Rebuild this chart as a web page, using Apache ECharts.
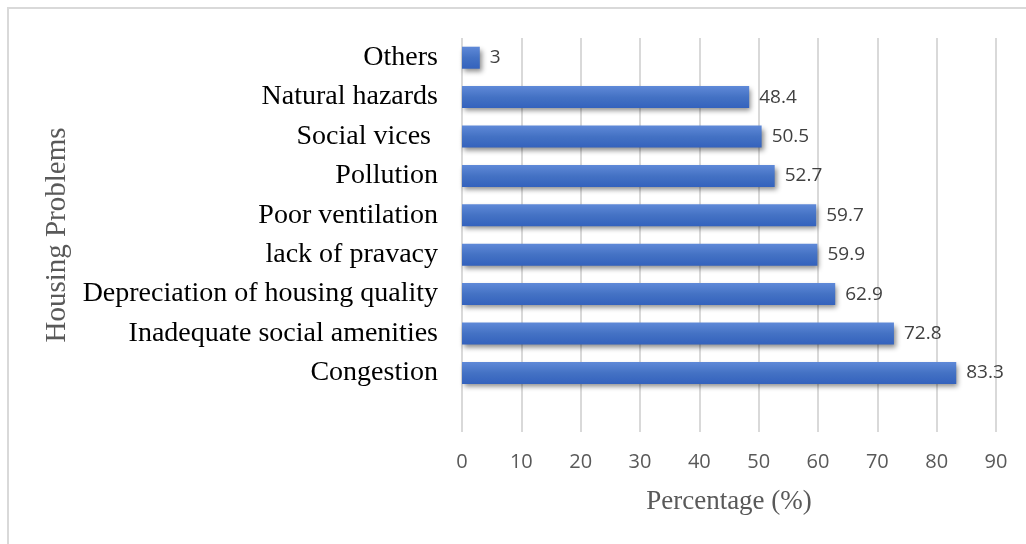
<!DOCTYPE html>
<html><head><meta charset="utf-8">
<script src="https://cdn.jsdelivr.net/npm/echarts@6/dist/echarts.min.js"></script>
<style>html,body{margin:0;padding:0;background:#fff}#c{width:1026px;height:544px}</style>
</head><body><div id="c"></div>
<script>
const categories = ['Congestion','Inadequate social amenities','Depreciation of housing quality','lack of pravacy','Poor ventilation','Pollution','Social vices ','Natural hazards','Others'];
const values = [83.3, 72.8, 62.9, 59.9, 59.7, 52.7, 50.5, 48.4, 3];
const xTicks = [0,10,20,30,40,50,60,70,80,90];

const chart = echarts.init(document.getElementById('c'), null, {renderer:'canvas'});
const cats = [''].concat(categories);
const vals = [null].concat(values);
chart.setOption({
  backgroundColor:'#fff',
  animation:false,
  graphic:[{type:'rect',shape:{x:8,y:8,width:1040,height:560},style:{fill:'none',stroke:'#d9d9d9',lineWidth:2},z:-1}],
  grid:{left:462,right:30,top:38,bottom:112,containLabel:false},
  xAxis:{type:'value',min:0,max:90,interval:10,
    axisLine:{show:false},axisTick:{show:false},
    splitLine:{show:true,lineStyle:{color:'#d9d9d9',width:2}},
    axisLabel:{color:'#595959',fontSize:20,fontFamily:'Open Sans',margin:20,formatter:v=>xTicks.includes(v)?String(v):''},
    name:'Percentage (%)',nameLocation:'middle',nameGap:56,
    nameTextStyle:{color:'#595959',fontSize:27,fontFamily:'Liberation Serif'}
  },
  yAxis:{type:'category',data:cats,
    axisLine:{show:false},axisTick:{show:false},splitLine:{show:false},
    axisLabel:{color:'#000',fontSize:28,fontFamily:'Liberation Serif',margin:24},
    name:'Housing Problems',nameLocation:'middle',nameGap:386,nameRotate:90,
    nameTextStyle:{color:'#595959',fontSize:29,fontFamily:'Liberation Serif'}
  },
  series:[{type:'bar',data:vals,barWidth:22,
    itemStyle:{
      color:new echarts.graphic.LinearGradient(0,0,0,1,[{offset:0,color:'#5f89d8'},{offset:0.5,color:'#4472c4'},{offset:1,color:'#3462bd'}]),
      shadowColor:'rgba(0,0,0,0.45)',shadowBlur:5,shadowOffsetX:2,shadowOffsetY:3
    },
    label:{show:true,position:'right',distance:10,color:'#404040',fontSize:19,fontFamily:'Open Sans'}
  }]
});
</script></body></html>
